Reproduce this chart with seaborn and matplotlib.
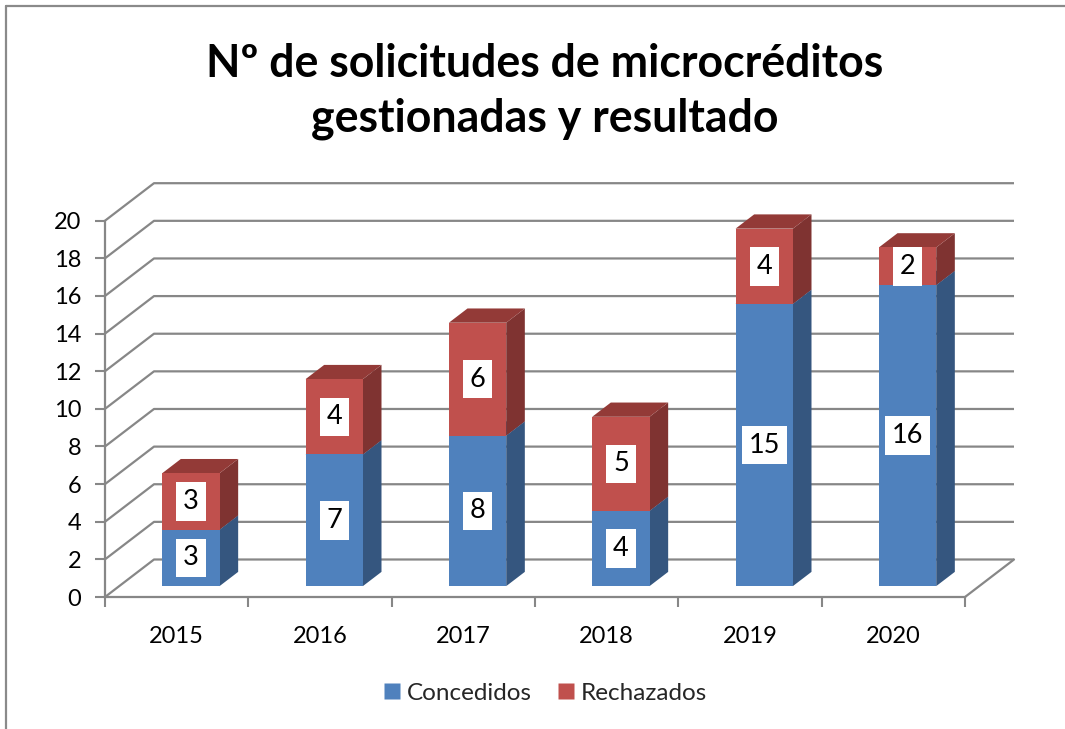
import numpy as np
import pandas as pd
import matplotlib
matplotlib.use("Agg")
import matplotlib.pyplot as plt
import seaborn as sns
from matplotlib.patches import Polygon
from matplotlib.transforms import Affine2D
from matplotlib.lines import Line2D

# ---- data ----
years = ["2015", "2016", "2017", "2018", "2019", "2020"]
concedidos = [3, 7, 8, 4, 15, 16]
rechazados = [3, 4, 6, 5, 4, 2]
y_ticks = [0, 2, 4, 6, 8, 10, 12, 14, 16, 18, 20]
title_lines = ["Nº de solicitudes de microcréditos", "gestionadas y resultado"]
series_names = ["Concedidos", "Rechazados"]

# ---- style ----
sns.set_theme(style="white")
plt.rcParams['font.family'] = ['Lato', 'DejaVu Sans']

BLUE, BLUE_SIDE, BLUE_TOP = "#4F81BD", "#35567F", "#3F6898"
RED, RED_SIDE, RED_TOP = "#C0504D", "#7F3331", "#933A37"
GRID = "#878787"

W, H = 1065, 729
fig = plt.figure(figsize=(W / 100, H / 100), dpi=100)
fig.patch.set_facecolor("white")

# front plane of the 3D box (pixels)
px0, px1 = 105, 965
py0, py1 = 597, 220.7
ax = fig.add_axes([px0 / W, 1 - py0 / H, (px1 - px0) / W, (py0 - py1) / H])
ax.set_facecolor("none")

n = len(years)
df = pd.DataFrame({"year": years, "Concedidos": concedidos, "Rechazados": rechazados})
df["total"] = df["Concedidos"] + df["Rechazados"]

sns.barplot(data=df, x="year", y="total", color=RED, saturation=1, width=0.4,
            linewidth=0, ax=ax)
sns.barplot(data=df, x="year", y="Concedidos", color=BLUE, saturation=1, width=0.4,
            linewidth=0, ax=ax)

ax.set_xlim(-0.5, n - 0.5)
ax.set_ylim(0, 20)

# depth (pixels -> data units)
DX_PX, DY_PX = 49, 37.5
DXD = DX_PX / ((px1 - px0) / n)
DYD = DY_PX / ((py0 - py1) / 20)
D_FRONT, D_BACK = 0.29, 0.67
fx, fy = D_FRONT * DXD, D_FRONT * DYD
ddx, ddy = (D_BACK - D_FRONT) * DXD, (D_BACK - D_FRONT) * DYD

# back wall gridlines + floor
for yv in y_ticks:
    ax.plot([-0.5, -0.5 + DXD, n - 0.5 + DXD], [yv, yv + DYD, yv + DYD],
            color=GRID, lw=1.6, clip_on=False, zorder=1, solid_capstyle="butt")
ax.plot([n - 0.5, n - 0.5 + DXD], [0, DYD], color=GRID, lw=1.6, clip_on=False, zorder=1)

patches = list(ax.patches)
red_p = patches[:n]
blue_p = patches[n:2 * n]

# the red (stacked) segment sits on top of the blue one
for i, p in enumerate(red_p):
    p.set_y(concedidos[i])
    p.set_height(rechazados[i])

def extrude(p, side_c, top_c, z):
    x, y = p.get_x(), p.get_y()
    w, h = p.get_width(), p.get_height()
    p.set_transform(Affine2D().translate(fx, fy) + ax.transData)
    p.set_zorder(z + 0.2)
    p.set_clip_on(False)
    xr = x + w + fx
    yb, yt = y + fy, y + h + fy
    side = Polygon([(xr, yb), (xr + ddx, yb + ddy), (xr + ddx, yt + ddy), (xr, yt)],
                   closed=True, facecolor=side_c, edgecolor="none", zorder=z, clip_on=False)
    top = Polygon([(x + fx, yt), (xr, yt), (xr + ddx, yt + ddy), (x + fx + ddx, yt + ddy)],
                  closed=True, facecolor=top_c, edgecolor="none", zorder=z + 0.1, clip_on=False)
    ax.add_patch(side)
    ax.add_patch(top)

for p in blue_p:
    extrude(p, BLUE_SIDE, BLUE_TOP, 2)
for p in red_p:
    extrude(p, RED_SIDE, RED_TOP, 3)

# data labels
for i in range(n):
    c, r = concedidos[i], rechazados[i]
    for val, mid in ((c, c / 2), (r, c + r / 2)):
        ax.text(i + fx, mid + fy, f"{val}", ha="center", va="center", fontsize=19.5,
                color="black", zorder=10,
                bbox=dict(boxstyle="square,pad=0.25", facecolor="white", edgecolor="none"))

# axes styling
for s in ["top", "right"]:
    ax.spines[s].set_visible(False)
for s in ["left", "bottom"]:
    ax.spines[s].set_color(GRID)
    ax.spines[s].set_linewidth(1.6)
    ax.spines[s].set_zorder(1)
ax.set_yticks(y_ticks)
ax.set_yticklabels([str(v) for v in y_ticks])
ax.set_xticks(range(n))
ax.set_xticklabels(years)
ax.set_xticks([i - 0.5 for i in range(n + 1)], minor=True)
ax.tick_params(axis="y", which="major", left=True, length=7, width=1.5, color=GRID,
               pad=10, labelsize=17, labelcolor="black")
ax.tick_params(axis="x", which="major", bottom=False, length=0, pad=21,
               labelsize=17, labelcolor="black")
ax.tick_params(axis="x", which="minor", bottom=True, length=7, width=1.5, color=GRID)
ax.set_xlabel("")
ax.set_ylabel("")
ax.grid(False)

# title, fitted to the reference width
t1 = fig.text(545 / W, 1 - 77 / H, title_lines[0], ha="center", va="baseline",
              fontsize=30, fontweight="bold", color="black")
fig.canvas.draw()
r = fig.canvas.get_renderer()
wpx = t1.get_window_extent(r).width
fs = 30 * 678 / wpx
t1.set_fontsize(fs)
fig.text(545 / W, 1 - 131 / H, title_lines[1], ha="center", va="baseline",
         fontsize=fs, fontweight="bold", color="black")

# legend
handles = [Line2D([], [], marker="s", linestyle="none", markersize=11,
                  markerfacecolor=col, markeredgecolor="none") for col in (BLUE, RED)]
fig.legend(handles, series_names, loc="center", bbox_to_anchor=(545 / W, 1 - 693 / H),
           ncol=2, frameon=False, fontsize=17.5, handlelength=0.75, handletextpad=0.25,
           columnspacing=1.0)

# chart-area border (left and top visible)
fig.add_artist(Line2D([5.5 / W, 5.5 / W], [0, 1 - 5.5 / H], color="#8A8A8A", lw=1.6,
                      transform=fig.transFigure))
fig.add_artist(Line2D([5.5 / W, 1], [1 - 5.5 / H, 1 - 5.5 / H], color="#8A8A8A", lw=1.6,
                      transform=fig.transFigure))

fig.savefig("out.png", dpi=100, facecolor="white")
